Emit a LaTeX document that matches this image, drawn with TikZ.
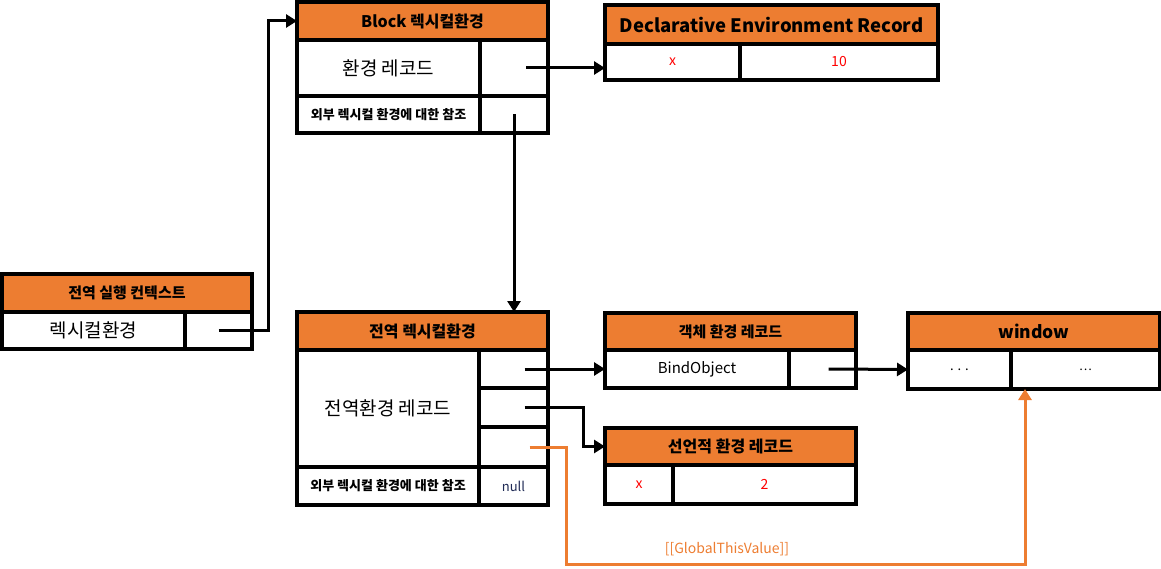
\documentclass[tikz,border=0pt]{standalone}
\usepackage{fontspec}
\setmainfont{Noto Sans CJK KR}
\usetikzlibrary{arrows.meta}
\definecolor{hdorange}{HTML}{ED7D31}
\definecolor{nullblue}{HTML}{1F2A55}
\tikzset{wh/.style 2 args={minimum width=#1pt, minimum height=#2pt},
	cell/.style={draw, line width=3.5pt, inner sep=0pt, outer sep=0pt, anchor=north west,
		font=\fontsize{19}{21}\selectfont},
	head/.style={cell, fill=hdorange, font=\bfseries\fontsize{16}{18}\selectfont},
	small/.style={cell, font=\bfseries\fontsize{13}{15}\selectfont},
	val/.style={cell, text=red, font=\fontsize{14}{16}\selectfont},
	link/.style={draw, ->, >={Triangle[length=11pt, width=13pt]}, line width=3pt},
	thislink/.style={link, draw=hdorange}}

\begin{document}
\begin{tikzpicture}[x=1pt, y=-1pt]
    \useasboundingbox (0,0) rectangle (1161,569);
    % Block lexical environment
    \node[head, wh={251}{38}] (blkhead) at (297,2) {Block 렉시컬환경};
    \node[cell, wh={183}{56}] (blkrec) at (297,40) {환경 레코드};
    \node[cell, wh={68}{56}] (blkrecp) at (480,40) {};
    \node[small, wh={183}{37}] (blkout) at (297,96) {외부 렉시컬 환경에 대한 참조};
    \node[cell, wh={68}{37}] (blkoutp) at (480,96) {};
    \node[head, wh={333}{39}, font=\bfseries\fontsize{18.5}{20}\selectfont] (dechead) at (605,5) {Declarative Environment Record};
    \node[val, wh={135}{36}] (decx) at (605,44) {x};
    \node[val, wh={198}{36}] (decval) at (740,44) {10};
    % global execution context
    \node[head, wh={250}{38}, font=\bfseries\fontsize{15}{17}\selectfont] (ctxhead) at (2,274) {전역 실행 컨텍스트};
    \node[cell, wh={183}{37}] (ctxlex) at (2,312) {렉시컬환경};
    \node[cell, wh={67}{37}] (ctxp) at (185,312) {};
    % global lexical environment
    \node[head, wh={251}{38}] (glhead) at (297,312) {전역 렉시컬환경};
    \node[cell, wh={182}{117}] (glrec) at (297,350) {전역환경 레코드};
    \node[cell, wh={69}{38}] (globj) at (479,350) {};
    \node[cell, wh={69}{39}] (gldec) at (479,388) {};
    \node[cell, wh={69}{40}] (glthis) at (479,427) {};
    \node[small, wh={182}{38}] (glout) at (297,467) {외부 렉시컬 환경에 대한 참조};
    \node[cell, wh={69}{38}, text=nullblue, font=\fontsize{13}{15}\selectfont] (glnull) at (479,467) {null};
    \node[head, wh={251}{37}, font=\bfseries\fontsize{15}{17}\selectfont] (objhead) at (605,313) {객체 환경 레코드};
    \node[cell, wh={184}{38}, font=\fontsize{15}{17}\selectfont] (objbind) at (605,350) {BindObject};
    \node[cell, wh={67}{38}] (objp) at (789,350) {};
    \node[head, wh={252}{37}, font=\bfseries\fontsize{17.5}{19}\selectfont] (winhead) at (908,313) {window};
    \node[cell, wh={103}{39}, font=\fontsize{13}{15}\selectfont] (winkey) at (908,350) {. . .};
    \node[cell, wh={149}{39}, font=\fontsize{12}{14}\selectfont] (winval) at (1011,350) {…};
    \node[head, wh={251}{37}] (dclhead) at (605,428) {선언적 환경 레코드};
    \node[val, wh={68}{39}] (dclx) at (605,465) {x};
    \node[val, wh={183}{39}] (dclval) at (673,465) {2};
    % references
    \draw[link] (ctxp.center) -- ++(50,0) |- (blkhead.west);
    \draw[link] ([xshift=12pt]blkrecp.center) -- (blkrecp.center -| decx.west);
    \draw[link] (blkoutp.center) -- (blkoutp.center |- glhead.north);
    \draw[link] ([xshift=11pt]globj.center) -- (objbind.west);
    \draw[link] ([xshift=11pt]gldec.center) -- ++(59,0) |- (dclhead.west);
    \draw[link] ([xshift=6pt]objp.center) -- (winkey.west);
    \coordinate (gtv) at ([xshift=14pt]winval.south west);
    \draw[thislink] ([xshift=16pt]glthis.center) -- ++(37,0) -- ++(0,117) -| node[pos=0.175, above=3pt, text=hdorange, font=\fontsize{14}{16}\selectfont] {[[GlobalThisValue]]} (gtv);
\end{tikzpicture}
\end{document}
